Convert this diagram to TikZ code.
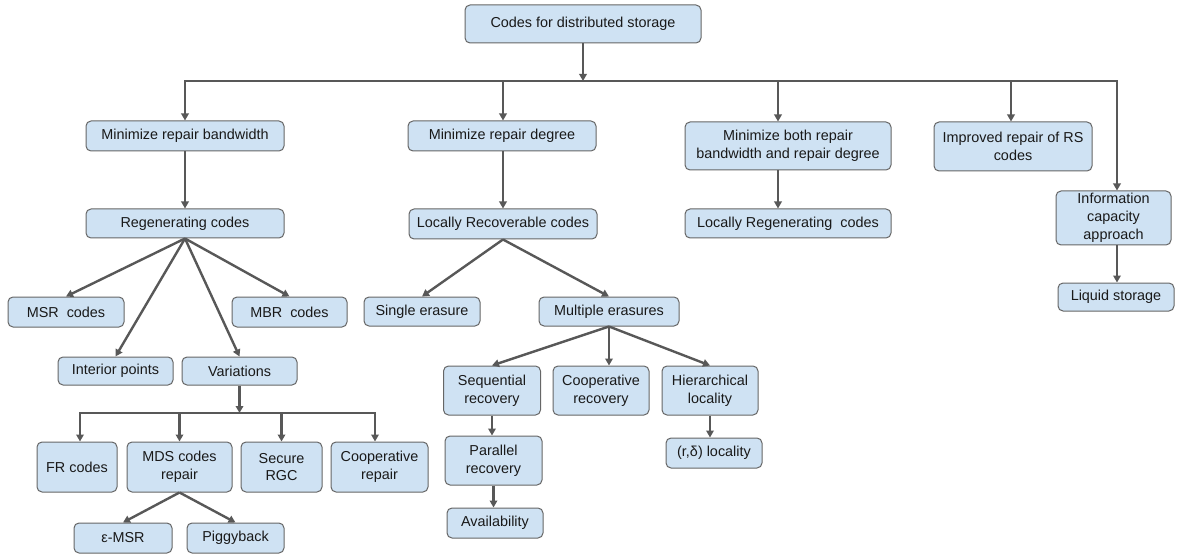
\documentclass[tikz,border=0pt]{standalone}
\usepackage{fontspec}
\setmainfont{Liberation Sans}
\usetikzlibrary{arrows.meta}
\definecolor{boxfill}{HTML}{CFE2F3}
\definecolor{boxline}{HTML}{666666}
\definecolor{linkcol}{HTML}{585858}

\begin{document}
\begin{tikzpicture}[x=1pt, y=-1pt,
	box/.style={draw=boxline, line width=1pt, fill=boxfill, rounded corners=5pt, inner sep=0pt, align=center, text=black!90, font=\fontsize{14.4}{17.8}\selectfont},
	link/.style={draw=linkcol, line width=2.4pt},
	arr/.style={link, -{Triangle[length=7pt,width=7.5pt]}}]
			\useasboundingbox (0,0) rectangle (1178,556);
			\node[box, minimum width=236pt, minimum height=38pt] (root) at (583,24) {Codes for distributed storage};
			\node[box, minimum width=198pt, minimum height=30pt] (mrb) at (185,136) {Minimize repair bandwidth};
			\node[box, minimum width=188pt, minimum height=30pt] (mrd) at (502,136) {Minimize repair degree};
			\node[box, minimum width=206pt, minimum height=48pt] (mb) at (788,146) {Minimize both repair\\bandwidth and repair degree};
			\node[box, minimum width=158pt, minimum height=49pt] (ir) at (1013,146.5) {Improved repair of RS\\codes};
			\node[box, minimum width=115pt, minimum height=54pt] (ic) at (1113.5,218) {Information\\capacity\\approach};
			\node[box, minimum width=116pt, minimum height=28pt] (ls) at (1116,297) {Liquid storage};
			\node[box, minimum width=206pt, minimum height=29pt] (lrg) at (788,223.5) {Locally Regenerating\ \ codes};
			\node[box, minimum width=198pt, minimum height=29pt] (regen) at (185,223.5) {Regenerating codes};
			\node[box, minimum width=188pt, minimum height=30pt] (lrc) at (503,224) {Locally Recoverable codes};
			\node[box, minimum width=116pt, minimum height=30pt] (msr) at (66,312) {MSR\ \ codes};
			\node[box, minimum width=115pt, minimum height=30pt] (mbr) at (289.5,312) {MBR\ \ codes};
			\node[box, minimum width=115pt, minimum height=28pt] (ip) at (115.5,371) {Interior points};
			\node[box, minimum width=115pt, minimum height=28pt] (var) at (239.5,371) {Variations};
			\node[box, minimum width=116pt, minimum height=29pt] (se) at (422,311.5) {Single erasure};
			\node[box, minimum width=140pt, minimum height=29pt] (me) at (609,311.5) {Multiple erasures};
			\node[box, minimum width=97pt, minimum height=49pt] (seq) at (492,390.5) {Sequential\\recovery};
			\node[box, minimum width=96pt, minimum height=49pt] (coop) at (601,390.5) {Cooperative\\recovery};
			\node[box, minimum width=96pt, minimum height=49pt] (hier) at (710,390.5) {Hierarchical\\locality};
			\node[box, minimum width=97pt, minimum height=49pt] (par) at (493.5,460.5) {Parallel\\recovery};
			\node[box, minimum width=96pt, minimum height=30pt] (avail) at (495,523) {Availability};
			\node[box, minimum width=96pt, minimum height=30pt] (rd) at (714,453) {(r,δ) locality};
			\node[box, minimum width=80pt, minimum height=50pt] (fr) at (77,467) {FR codes};
			\node[box, minimum width=105pt, minimum height=50pt] (mds) at (179.5,467) {MDS codes\\repair};
			\node[box, minimum width=81pt, minimum height=50pt] (srgc) at (281.5,467) {Secure\\RGC};
			\node[box, minimum width=97pt, minimum height=50pt] (cr) at (379.5,467) {Cooperative\\repair};
			\node[box, minimum width=98pt, minimum height=30pt] (emsr) at (123,538) {ε-MSR};
			\node[box, minimum width=97pt, minimum height=30pt] (pb) at (235.5,538) {Piggyback};
			\coordinate (busL) at (185,81);
			\coordinate (busR) at (1117,81);
			\coordinate (tap2) at (503,81);
			\coordinate (tap3) at (778,81);
			\coordinate (tap4) at (1011,81);
			\coordinate (vbusL) at (80,413);
			\coordinate (vbusR) at (375,413);
			\draw[arr] (root.south) -- (root.south |- busL);
			\draw[arr] (root.south |- busL) -- (busL) -- (mrb.north);
			\draw[arr] (root.south |- busL) -- (busR) -- (busR |- ic.north);
			\draw[arr] (tap2) -- (tap2 |- mrd.north);
			\draw[arr] (tap3) -- (tap3 |- mb.north);
			\draw[arr] (tap4) -- (tap4 |- ir.north);
			\draw[arr] (mrb) -- (regen);
			\draw[arr] (mrd.south -| tap2) -- (lrc.north -| tap2);
			\draw[arr] (mb.south -| tap3) -- (lrg.north -| tap3);
			\draw[arr] (ic.south -| busR) -- (ls.north -| busR);
			\draw[arr] (regen.south) -- (msr.north);
			\draw[arr] (regen.south) -- (ip.north);
			\draw[arr] (regen.south) -- (var.north);
			\draw[arr] (regen.south) -- (mbr.north);
			\draw[arr] (lrc.south) -- (se.north);
			\draw[arr] (lrc.south) -- (me.north);
			\draw[arr] (me.south) -- (seq.north);
			\draw[arr] (me.south) -- (me.south |- coop.north);
			\draw[arr] (me.south) -- (hier.north);
			\draw[arr] (seq.south) -- (seq.south |- par.north);
			\draw[arr] (par.south) -- (par.south |- avail.north);
			\draw[arr] (hier.south) -- (hier.south |- rd.north);
			\draw[arr] (var.south) -- (var.south |- vbusL);
			\draw[arr] (var.south |- vbusL) -- (vbusL) -- (vbusL |- fr.north);
			\draw[arr] (var.south |- vbusL) -- (vbusR) -- (vbusR |- cr.north);
			\draw[arr] (mds.north |- vbusL) -- (mds.north);
			\draw[arr] (srgc.north |- vbusL) -- (srgc.north);
			\draw[arr] (mds.south) -- (emsr.north);
			\draw[arr] (mds.south) -- (pb.north);
		\end{tikzpicture}
\end{document}
